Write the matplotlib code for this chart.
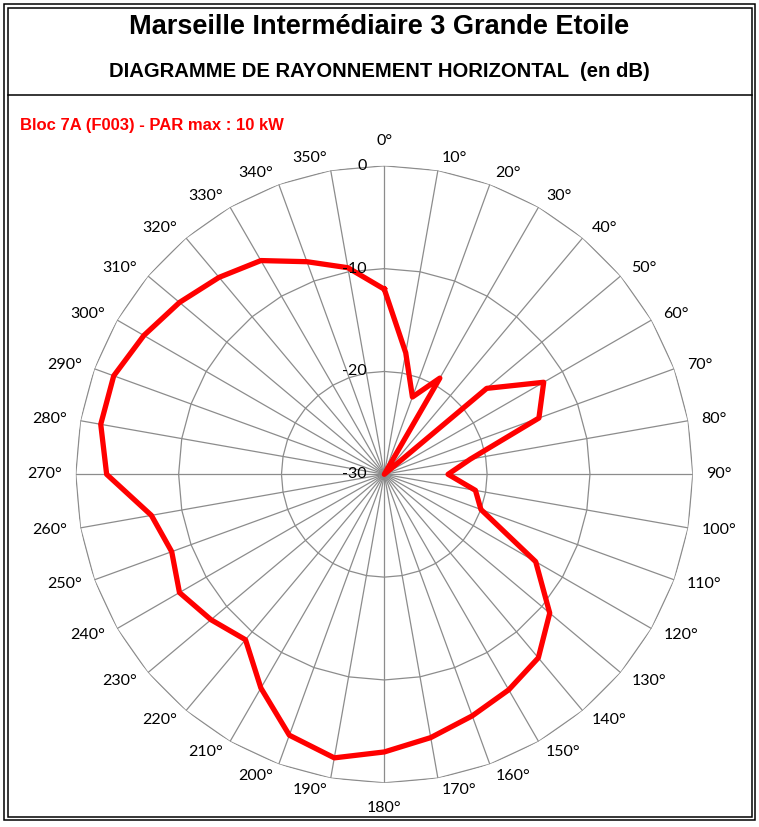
import numpy as np
import matplotlib
matplotlib.use("Agg")
import matplotlib.pyplot as plt
from matplotlib.patches import Rectangle
from matplotlib.lines import Line2D

# azimuth (deg, clockwise from north) and attenuation (dB)
angles = list(range(0, 360, 10))
gain_db = [-12, -18, -22, -19.2, -30, -17, -12.1, -14, -21.5, -23.8,
           -21, -20, -13, -9, -6.7, -5.8, -5, -4, -3, -2,
           -3, -6, -9, -8, -7, -8, -7, -3, -2, -2,
           -3, -4, -5, -6, -8, -9.6]
ring_values = [-30, -20, -10, 0]
ring_labels = ['-30', '-20', '-10', '0']
angle_labels = [f'{a}°' for a in angles]

title = 'Marseille Intermédiaire 3 Grande Etoile'
subtitle = 'DIAGRAMME DE RAYONNEMENT HORIZONTAL  (en dB)'
series_name = 'Bloc 7A (F003) - PAR max : 10 kW'

W, H = 759, 827
fig = plt.figure(figsize=(W / 100, H / 100), dpi=100)
fig.patch.set_facecolor('white')

narrow = ['Liberation Sans Narrow', 'Liberation Sans', 'DejaVu Sans']
lab_font = ['Lato', 'DejaVu Sans']
PT = 0.72  # points per pixel at 100 dpi

# frame
def px_rect(x0, y0, x1, y1, lw):
    fig.add_artist(Rectangle((x0 / W, 1 - y1 / H), (x1 - x0) / W, (y1 - y0) / H,
                             transform=fig.transFigure, fill=False,
                             edgecolor='black', linewidth=lw))

px_rect(4, 4, 755, 820, 1.1)
px_rect(7.5, 7.5, 751.5, 816.5, 1.1)
fig.add_artist(Line2D([7.5 / W, 751.5 / W], [1 - 94.5 / H, 1 - 94.5 / H],
                      transform=fig.transFigure, color='black', linewidth=1.1))

fig.text(379 / W, 1 - 27.5 / H, title, ha='center', va='center',
         fontsize=19.5, fontweight='bold', family=narrow)
fig.text(379.5 / W, 1 - 71.5 / H, subtitle, ha='center', va='center',
         fontsize=14.6, fontweight='bold', family=narrow)
fig.text(20 / W, 1 - 125.5 / H, series_name, ha='left', va='center',
         fontsize=12, fontweight='bold', family=narrow, color='red')

# polar axes, centre (384, 474), radius 308 px
cx, cy, R = 384.3, 474.3, 308.5
ax = fig.add_axes([(cx - R) / W, 1 - (cy + R) / H, 2 * R / W, 2 * R / H],
                  projection='polar')
ax.set_theta_zero_location('N')
ax.set_theta_direction(-1)
ax.set_ylim(-30, 0)
ax.grid(False)
ax.set_xticks([])
ax.set_yticks([])
ax.spines['polar'].set_visible(False)
ax.patch.set_alpha(0)

theta = np.deg2rad(angles)
grid_col = '#8c8c8c'

# polygonal rings
theta_closed = np.append(theta, theta[0])
for rv in ring_values[1:]:
    ax.plot(theta_closed, [rv] * len(theta_closed), color=grid_col, lw=0.9, zorder=1)
# spokes
for t in theta:
    ax.plot([t, t], [ring_values[0], ring_values[-1]], color=grid_col, lw=0.9, zorder=1)

# data
g = np.array(gain_db + gain_db[:1])
ax.plot(theta_closed, g, color='#ff0000', lw=3.8, zorder=3,
        solid_joinstyle='round', clip_on=False)

# angle labels, placed like the spreadsheet does (edge-anchored outside the ring)
for t, lab in zip(theta, angle_labels):
    s, c = np.sin(t), np.cos(t)
    if abs(s) < 1e-6:
        ha, dx, dy = 'center', 0, 25 * np.sign(c)
    else:
        ha = 'left' if s > 0 else 'right'
        dx = np.sign(s) * (1.5 + 12.0 * abs(s))
        dy = 12.5 * c
    ax.annotate(lab, xy=(t, ring_values[-1]), xytext=(dx * PT, dy * PT),
                textcoords='offset points', ha=ha, va='center', fontsize=11.5,
                family=lab_font, annotation_clip=False)

# value labels left of the north spoke
for rv, lab in zip(ring_values, ring_labels):
    ax.annotate(lab, xy=(0, rv), xytext=(-12.5, 0), textcoords='offset points',
                ha='right', va='center', fontsize=11.5, family=lab_font,
                annotation_clip=False, zorder=4)

fig.savefig('out.png', dpi=100)
